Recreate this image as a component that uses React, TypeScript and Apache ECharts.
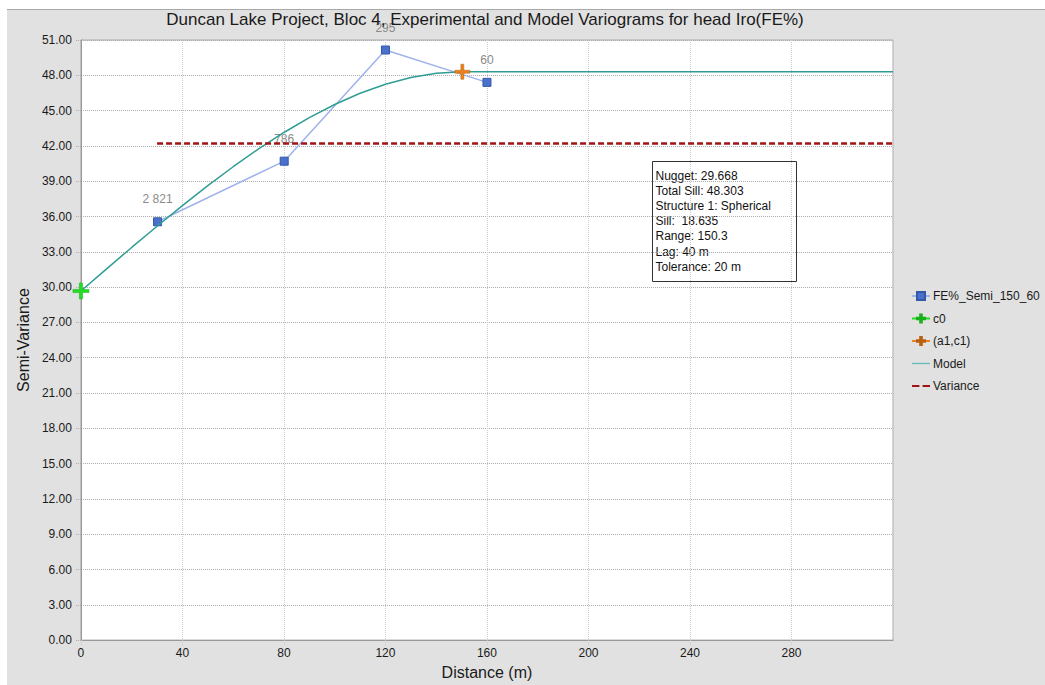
import React, { useEffect, useRef } from "react";
import * as echarts from "echarts";

const FONT = "'Liberation Sans', Arial, sans-serif";

const expDist = [30.2, 80.1, 120, 160];
const expSemi = [35.55, 40.7, 50.15, 47.4];
const expPairs = ["2 821", "786", "295", "60"];

const nuggetPoint = [0, 29.668];
const rangePoint = [150.3, 48.303];

const modelDist = [0, 10, 20, 30, 40, 50, 60, 70, 80, 90, 100, 110, 120, 130, 140, 150.3, 320];
const modelSemi = [29.668, 31.53, 33.37, 35.17, 36.93, 38.62, 40.23, 41.75, 43.14, 44.41, 45.52, 46.47, 47.24, 47.82, 48.17, 48.303, 48.303];

const varianceDist = [30, 320];
const varianceValue = 42.2;

const infoLines = [
  "Nugget: 29.668",
  "Total Sill: 48.303",
  "Structure 1: Spherical",
  "Sill:  18.635",
  "Range: 150.3",
  "Lag: 40 m",
  "Tolerance: 20 m",
];

const PLUS = "path://M4,0 H6 V4 H10 V6 H6 V10 H4 V6 H0 V4 H4 Z";
const LINE_ICON = "path://M0,4.3 H20 V5.7 H0 Z";
const DASH_ICON = "path://M0,4 H7 V6 H0 Z M10,4 H17 V6 H10 Z";

export default function App() {
  const ref = useRef<HTMLDivElement>(null);
  useEffect(() => {
    if (!ref.current) return;
    const chart = echarts.init(ref.current, null, { renderer: "svg" });
    chart.setOption({
      animation: false,
      backgroundColor: "#e1e1e1",
      textStyle: { fontFamily: FONT },
      title: {
        text: "Duncan Lake Project, Bloc 4, Experimental and Model Variograms for head Iro(FE%)",
        left: 478,
        textAlign: "center",
        top: 1,
        padding: 0,
        textStyle: { fontFamily: FONT, fontSize: 17, fontWeight: "normal", color: "#1a1a1a" },
      },
      legend: {
        orient: "vertical",
        left: 904,
        top: 280,
        padding: 0,
        itemWidth: 18,
        itemHeight: 10,
        itemGap: 10.5,
        textStyle: { fontFamily: FONT, fontSize: 12, color: "#1a1a1a", padding: [0, 0, 0, -2] },
        data: [
          { name: "FE%_Semi_150_60" },
          { name: "c0" },
          { name: "(a1,c1)" },
          { name: "Model", icon: LINE_ICON, itemStyle: { color: "#5fbcb6" } },
          { name: "Variance", icon: DASH_ICON },
        ],
      },
      grid: {
        left: 70,
        top: 30,
        right: 152,
        bottom: 38,
        show: true,
        backgroundColor: "#ffffff",
        borderColor: "#a8a8a8",
        borderWidth: 1,
      },
      xAxis: {
        type: "value",
        min: 0,
        max: 320,
        interval: 40,
        name: "Distance (m)",
        nameLocation: "middle",
        nameGap: 22,
        nameTextStyle: { fontFamily: FONT, fontSize: 16, color: "#1a1a1a" },
        axisLine: { lineStyle: { color: "#999999" } },
        axisTick: { show: true, length: 5, lineStyle: { color: "#c8c8c8", type: "dotted" } },
        axisLabel: {
          fontFamily: FONT,
          fontSize: 12,
          color: "#1a1a1a",
          margin: 7,
          showMaxLabel: false,
          formatter: (v: number) => (v >= 320 ? "" : String(v)),
        },
        splitLine: { show: true, lineStyle: { color: "#cccccc", type: "dotted" } },
      },
      yAxis: {
        type: "value",
        min: 0,
        max: 51,
        interval: 3,
        name: "Semi-Variance",
        nameLocation: "middle",
        nameGap: 49,
        nameTextStyle: { fontFamily: FONT, fontSize: 16, color: "#1a1a1a" },
        axisLine: { show: true, lineStyle: { color: "#999999" } },
        axisTick: { show: true, length: 5, lineStyle: { color: "#aaaaaa", type: "dotted" } },
        axisLabel: {
          fontFamily: FONT,
          fontSize: 12,
          color: "#1a1a1a",
          margin: 9,
          formatter: (v: number) => v.toFixed(2),
        },
        splitLine: { show: true, lineStyle: { color: "#aaaaaa", type: "dotted" } },
      },
      series: [
        {
          name: "FE%_Semi_150_60",
          type: "line",
          data: expDist.map((d, i) => [d, expSemi[i]]),
          symbol: "rect",
          symbolSize: 8,
          itemStyle: { color: "#4a72cc", borderColor: "#3358a8", borderWidth: 1 },
          lineStyle: { color: "#9fb2ec", width: 1.5 },
          label: {
            show: true,
            position: "top",
            distance: 12,
            fontFamily: FONT,
            fontSize: 12,
            color: "#8a8a8a",
            formatter: (p: any) => expPairs[p.dataIndex],
          },
          z: 3,
        },
        {
          name: "Model",
          type: "line",
          data: modelDist.map((d, i) => [d, modelSemi[i]]),
          symbol: "none",
          smooth: false,
          lineStyle: { color: "#2f9d95", width: 1.5 },
          itemStyle: { color: "#2f9d95" },
          z: 4,
        },
        {
          name: "Variance",
          type: "line",
          data: varianceDist.map((d) => [d, varianceValue]),
          symbol: "none",
          lineStyle: { color: "#a01414", width: 2.5, type: [6, 3] },
          itemStyle: { color: "#a01414" },
          z: 5,
        },
        {
          name: "c0",
          type: "line",
          data: [nuggetPoint],
          symbol: PLUS,
          symbolSize: 16,
          itemStyle: { color: "#22dd22", borderColor: "#18b018", borderWidth: 0.5 },
          lineStyle: { color: "#22dd22", width: 1.5 },
          z: 6,
        },
        {
          name: "(a1,c1)",
          type: "line",
          data: [rangePoint],
          symbol: PLUS,
          symbolSize: 15,
          itemStyle: { color: "#e8821e", borderColor: "#b86010", borderWidth: 0.5 },
          lineStyle: { color: "#e8821e", width: 1.5 },
          z: 6,
        },
      ],
      graphic: [
        {
          type: "group",
          left: 645,
          top: 151,
          z: 100,
          children: [
            {
              type: "rect",
              shape: { x: 0, y: 0, width: 144, height: 120 },
              style: { fill: "#ffffff", stroke: "#333333", lineWidth: 1 },
            },
            ...infoLines.map((t, i) => ({
              type: "text",
              x: 3,
              y: 8 + i * 15.2,
              style: {
                text: t,
                fontFamily: FONT,
                fontSize: 12,
                fill: "#111111",
                verticalAlign: "top",
              },
            })),
          ],
        },
      ],
    });
    return () => chart.dispose();
  }, []);
  return (
    <div
      style={{
        position: "fixed",
        left: 0,
        top: 0,
        width: 1045,
        height: 685,
        overflow: "hidden",
        background: "#ffffff",
      }}
    >
      <div
        style={{
          position: "absolute",
          left: 7,
          top: 9,
          width: 1038,
          height: 676,
          borderTop: "1px solid #a8a8a8",
          boxSizing: "border-box",
          overflow: "hidden",
        }}
      >
        <div ref={ref} style={{ width: 1038, height: 675 }} />
      </div>
    </div>
  );
}
